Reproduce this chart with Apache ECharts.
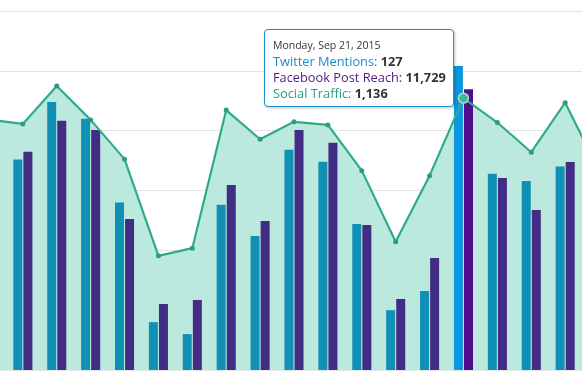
<!DOCTYPE html>
<html><head><meta charset="utf-8">
<script src="https://cdn.jsdelivr.net/npm/echarts@6/dist/echarts.min.js"></script>
<style>html,body{margin:0;padding:0;background:#fff;overflow:hidden;}
#wrap{position:relative;width:582px;height:371px;overflow:hidden;}
#c{position:absolute;left:-28px;top:0;width:644px;height:371px;}</style>
</head><body><div id="wrap"><div id="c"></div></div>
<script>
const categories = ['Monday, Sep 7, 2015','Tuesday, Sep 8, 2015','Wednesday, Sep 9, 2015','Thursday, Sep 10, 2015','Friday, Sep 11, 2015','Saturday, Sep 12, 2015','Sunday, Sep 13, 2015','Monday, Sep 14, 2015','Tuesday, Sep 15, 2015','Wednesday, Sep 16, 2015','Thursday, Sep 17, 2015','Friday, Sep 18, 2015','Saturday, Sep 19, 2015','Sunday, Sep 20, 2015','Monday, Sep 21, 2015','Tuesday, Sep 22, 2015','Wednesday, Sep 23, 2015','Thursday, Sep 24, 2015','Friday, Sep 25, 2015'];
const twitterMentions = [90, 88, 112, 105, 70, 20, 15, 69, 56, 92, 87, 61, 25, 33, 127, 82, 79, 85, 80];
const facebookReach = [9000, 9114, 10410, 10033, 6313, 2759, 2926, 7734, 6229, 10033, 9490, 6062, 2968, 4682, 11729, 8027, 6689, 8696, 8000];
const socialTraffic = [1046, 1028, 1187, 1045, 881, 477, 509, 1086, 964, 1037, 1024, 833, 536, 812, 1136, 1034, 910, 1117, 833];
const hoverIndex = 14;

const chart = echarts.init(document.getElementById('c'), null, {renderer:'canvas'});
const fmt = v => v.toLocaleString('en-US');
const hidden = {show:false};
chart.setOption({
  animation:false,
  grid:{left:0, right:0, top:11, bottom:1, containLabel:false},
  tooltip:{
    trigger:'axis', triggerOn:'none', alwaysShowContent:true,
    axisPointer:{type:'none'},
    position:[292,29],
    padding:0, borderWidth:0, backgroundColor:'transparent',
    extraCssText:'box-shadow:none;',
    formatter: function(params){
      const i = params[0].dataIndex;
      return '<div style="width:172px;height:63px;padding:8px 8px 5px 8px;border:1.5px solid #1b8fd0;border-radius:4px;background:#fff;box-shadow:1px 1px 3px rgba(0,0,0,0.25);font-family:\'Open Sans\',sans-serif;">'
        + '<div style="font-size:10.5px;color:#333;line-height:15px;">'+categories[i]+'</div>'
        + '<div style="font-size:12.8px;line-height:16px;color:#1a8ccc;">Twitter Mentions: <b style="color:#333">'+fmt(twitterMentions[i])+'</b></div>'
        + '<div style="font-size:12.8px;line-height:16px;color:#52187f;">Facebook Post Reach: <b style="color:#333">'+fmt(facebookReach[i])+'</b></div>'
        + '<div style="font-size:12.8px;line-height:16px;color:#2a9d7f;">Social Traffic: <b style="color:#333">'+fmt(socialTraffic[i])+'</b></div>'
        + '</div>';
    }
  },
  xAxis:{type:'category', data:categories, boundaryGap:true, axisLine:{show:true, lineStyle:{color:'#e6e6e6'}}, axisTick:hidden, axisLabel:hidden},
  yAxis:[
    {type:'value', min:0, max:150, interval:25, show:true, axisLine:hidden, axisTick:hidden, axisLabel:hidden, splitLine:{lineStyle:{color:'#e3e3e3', width:1}}},
    {type:'value', min:0, max:15000, interval:2500, show:false},
    {type:'value', min:0, max:1500, interval:250, show:false}
  ],
  series:[
    {name:'Social Traffic Area', type:'line', yAxisIndex:2, data:socialTraffic, symbol:'none', color:'#abd4ca', lineStyle:{width:0, opacity:0}, areaStyle:{color:'#abd4ca', opacity:1}, z:1, silent:true},
    {name:'Twitter Mentions', type:'bar', yAxisIndex:0, barWidth:9, barGap:'12%',
      data:twitterMentions.map((v,i)=> i===hoverIndex ? {value:v, itemStyle:{color:'#0a8acb'}} : v),
      itemStyle:{color:'#1190b5'}, z:2},
    {name:'Facebook Post Reach', type:'bar', yAxisIndex:1, barWidth:9,
      data:facebookReach.map((v,i)=> i===hoverIndex ? {value:v, itemStyle:{color:'#4a0a83'}} : v),
      itemStyle:{color:'#432c84'}, z:2},
    {name:'Social Traffic', type:'line', yAxisIndex:2,
      data:socialTraffic.map((v,i)=> i===hoverIndex ? {value:v, symbolSize:9, itemStyle:{color:'#3aa88a', borderColor:'#a8dccd', borderWidth:1.5}} : v),
      symbol:'circle', symbolSize:5, showSymbol:true,
      lineStyle:{color:'#2b9c7f', width:2.2}, itemStyle:{color:'#2b9c7f'}, z:5}
  ]
});
chart.dispatchAction({type:'showTip', seriesIndex:3, dataIndex:hoverIndex});
</script>
</body></html>
